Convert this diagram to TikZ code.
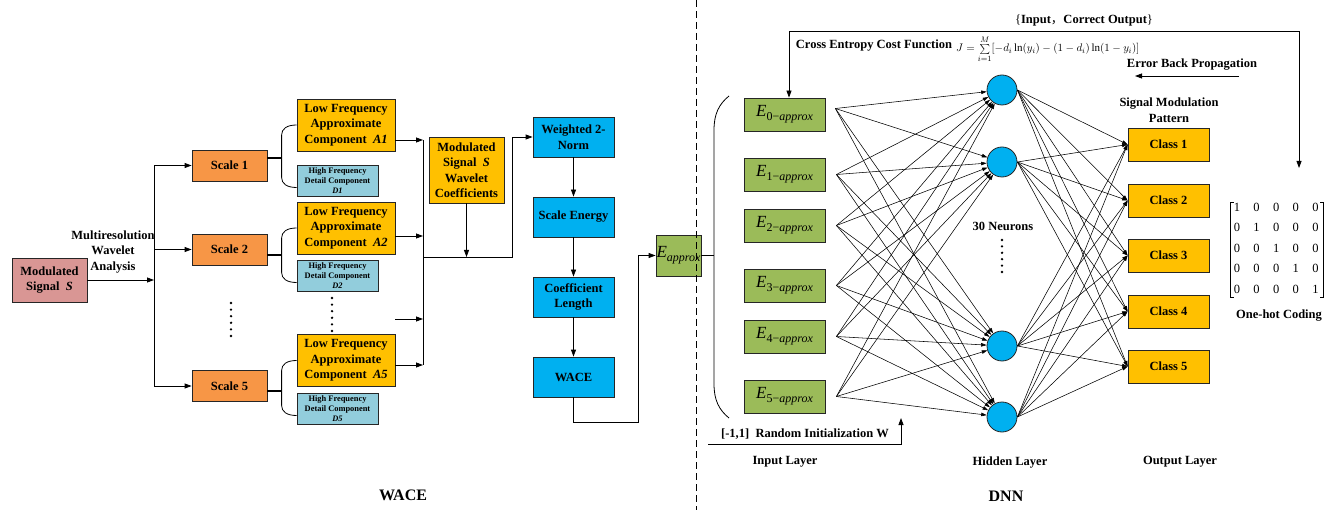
\documentclass[tikz,border=0pt]{standalone}
\usepackage{fontspec}
\setmainfont{Liberation Serif}
\newfontfamily\cjk{Noto Sans CJK SC}
\usetikzlibrary{arrows.meta,calc}
\definecolor{cPink}{HTML}{D99694}
\definecolor{cOrange}{HTML}{F79646}
\definecolor{cGold}{HTML}{FFC000}
\definecolor{cAqua}{HTML}{92CDDC}
\definecolor{cBlue}{HTML}{00B0F0}
\definecolor{cGreen}{HTML}{9BBB59}
\newcommand{\Eap}[1]{{\fontsize{17}{17}\selectfont\mdseries\itshape E}\raisebox{-4pt}{\fontsize{12}{12}\selectfont\mdseries\upshape #1\itshape approx}}
\tikzset{
  every node/.style={font=\fontsize{12.5}{15.5}\selectfont\bfseries},
  bx/.style={draw=black!85, line width=0.8pt, inner sep=0pt, align=center},
  scalebox/.style={bx, fill=cOrange, minimum width=75pt, minimum height=31pt},
  abox/.style={bx, fill=cGold, minimum width=98pt, minimum height=52pt},
  dbox/.style={bx, fill=cAqua, minimum width=81pt, minimum height=31pt, font=\fontsize{8.4}{10}\selectfont\bfseries},
  bluebox/.style={bx, fill=cBlue, minimum width=81pt, minimum height=40pt},
  gbox/.style={bx, fill=cGreen, minimum width=81pt, minimum height=33pt, font=\normalfont},
  classbox/.style={bx, fill=cGold, minimum width=81pt, minimum height=33pt},
  neuron/.style={circle, draw=black!85, line width=0.8pt, fill=cBlue, minimum size=30pt, inner sep=0pt},
  lbl/.style={inner sep=0pt, align=center},
  big/.style={inner sep=0pt, font=\fontsize{16}{16}\selectfont\bfseries},
  digit/.style={inner sep=0pt, font=\fontsize{12.5}{12.5}\selectfont},
  conn/.style={draw=black, line width=0.8pt},
  arr/.style={-{Triangle[length=7pt,width=5pt]}},
  nn/.style={draw=black, line width=0.55pt, -{Triangle[length=5.5pt,width=3.5pt]}},
}
\begin{document}
\begin{tikzpicture}[x=1pt,y=-1pt]
\useasboundingbox (0,0) rectangle (1324,510);

% ---------- WACE part ----------
\node[bx, fill=cPink, minimum width=75pt, minimum height=44pt] (mod) at (49.5,280) {Modulated\\Signal~~\textit{S}};
\node[lbl] (mwa) at (113,252) {Multiresolution\\Wavelet\\Analysis};
\coordinate (busA) at (154,0);
\node[scalebox] (s1) at (229.5,165.5) {Scale 1};
\node[scalebox] (s2) at (229.5,249.5) {Scale 2};
\node[scalebox] (s5) at (229.5,386) {Scale 5};
\draw[conn,arr] (mod.east) -- (busA |- mod.east);
\draw[conn] (busA |- s1.west) -- (busA |- s5.west);
\foreach \s in {s1,s2,s5} \draw[conn,arr] (busA |- \s.west) -- (\s.west);
\foreach \k in {0,...,5} \fill ({231},{303+6.6*\k}) circle (1.3pt);

\node[abox] (a1) at (346,125) {Low Frequency\\Approximate\\Component~~\textit{A1}};
\node[abox] (a2) at (346,228) {Low Frequency\\Approximate\\Component~~\textit{A2}};
\node[abox] (a5) at (346,360.5) {Low Frequency\\Approximate\\Component~~\textit{A5}};
\node[dbox] (d1) at (337.5,180.5) {High Frequency\\Detail Component\\\textit{D1}};
\node[dbox] (d2) at (337.5,275.5) {High Frequency\\Detail Component\\\textit{D2}};
\node[dbox] (d5) at (337.5,408.5) {High Frequency\\Detail Component\\\textit{D5}};
\foreach \k in {0,...,5} \fill ({332},{298+6.6*\k}) circle (1.3pt);

\foreach \a/\d in {a1/d1,a2/d2,a5/d5}
  \draw[conn] (\a.west) .. controls ($(\a.west)+(-10,0)$) and ($(\a.west)+(-15,4)$) .. ($(\a.west)+(-15,10)$)
     -- ($(\d.west)+(-15,-3)$) .. controls ($(\d.west)+(-15,3)$) and ($(\d.west)+(-10,7)$) .. ($(\d.west)+(0,7)$);
\draw[line width=2pt] ([yshift=7.5pt]s1.east) -- ++(15,0);
\draw[line width=2pt] ([yshift=-5.5pt]s2.east) -- ++(15,0);
\draw[line width=2pt] ([yshift=-5pt]s5.east) -- ++(15,0);

\coordinate (busB) at (423,0);
\coordinate (a1o) at ([yshift=-15pt]a1.east);
\coordinate (a2o) at ([yshift=-8pt]a2.east);
\coordinate (a5o) at ([yshift=-4.5pt]a5.east);
\coordinate (xo) at (395,319);
\foreach \p in {a1o,a2o,a5o,xo} \draw[conn,arr] (\p) -- (busB |- \p);
\draw[conn] (busB |- a1o) -- (busB |- a5o);
\coordinate (jB) at (423,257);

\node[bx, fill=cGold, minimum width=75pt, minimum height=66pt] (wc) at (466.5,170) {Modulated\\Signal~~\textit{S}\\Wavelet\\Coefficients};
\node[bluebox] (wn) at (573.5,137) {Weighted 2-\\Norm};
\node[bluebox] (se) at (573.5,217) {Scale Energy};
\node[bluebox] (cl) at (573.5,297) {Coefficient\\Length};
\node[bluebox] (wa) at (573.5,377) {WACE};
\draw[conn,arr] (jB) -| ($(wn.west)+(-20,0)$) -- (wn.west);
\draw[conn,arr] (wc.south) -- (wc.south |- jB);
\draw[conn,arr] (wn) -- (se);
\draw[conn,arr] (se) -- (cl);
\draw[conn,arr] (cl) -- (wa);

\node[bx, fill=cGreen, minimum width=45pt, minimum height=41pt, font=\normalfont] (eap) at (678.5,255.5) {\Eap{}};
\draw[conn,arr] (wa.south) -- ++(0,25) -| ($(eap.west)+(-17,0)$) -- (eap.west);

\node[big] (twace) at (403,495) {WACE};

% divider
\draw[line width=0.8pt, dash pattern=on 7pt off 4pt] (696,0) -- (696,510);

% ---------- DNN part ----------
\coordinate (brk) at (714,255.5);
\draw[line width=1.5pt] (eap.east) -- (brk);
\draw[conn] (729,96) .. controls (719,104) and (714,114) .. (714,130) -- (714,384) .. controls (714,400) and (719,410) .. (729,418);

\foreach \i/\y in {0/114.5,1/174.5,2/225.5,3/285.5,4/336.5,5/396.5}
  \node[gbox] (e\i) at (784.5,\y) {\Eap{\i−}};
\coordinate (o0) at ($(e0.east)+(10,-6)$);
\foreach \i in {1,...,5} \coordinate (o\i) at ($(e\i.east)+(11,0)$);

\node[neuron] (h1) at (1002,90) {};
\node[neuron] (h2) at (1002,162) {};
\node[neuron] (h3) at (1002,346) {};
\node[neuron] (h4) at (1002,417) {};
\node[lbl] (n30) at (1003,226) {30 Neurons};
\foreach \k in {0,...,5} \fill ({1002},{240+6.4*\k}) circle (1.3pt);

\foreach \c/\y in {1/144.5,2/200.5,3/255.5,4/311.5,5/366.5}
  \node[classbox] (c\c) at (1168.5,\y) {Class \c};

\foreach \i in {0,...,5} \foreach \h in {1,...,4} \draw[nn] (o\i) -- (h\h);
\foreach \h in {1,...,4} \foreach \c in {1,...,5} \draw[nn] (h\h.east) -- (c\c.west);

% feedback loop
\coordinate (fbend) at (1299,168);
\draw[conn,{Triangle[length=7pt,width=5pt]}-{Triangle[length=7pt,width=5pt]}] ([xshift=4.5pt]e0.north) |- (1299,31) -- (fbend);
\node[lbl] (io) at (1084,20) {{\mdseries\{}Input{\cjk\mdseries ，}Correct Output{\mdseries\}}};
\node[lbl] (cecf) at (874,46) {Cross Entropy Cost Function};
\node[inner sep=0pt, anchor=west, font=\fontsize{11}{11}\selectfont] (form) at (956,49) {$J=\sum\limits_{i=1}^{M}[-d_i\ln(y_i)-(1-d_i)\ln(1-y_i)]$};
\node[lbl] (ebp) at (1192,65) {Error Back Propagation};
\coordinate (ebp1) at (1239,76);
\coordinate (ebp2) at (1135,76);
\draw[conn,arr] (ebp1) -- (ebp2);
\node[lbl] (smp) at (1169,110) {Signal Modulation\\Pattern};

% one-hot matrix
\foreach \r in {0,...,4} \foreach \c in {0,...,4}
  \node[digit] (m\r\c) at ({1237+19.6*\c},{207+20.5*\r}) {\ifnum\r=\c\relax 1\else 0\fi};
\draw[line width=0.6pt] (1233.5,202) -| (1230,297) -- (1233.5,297);
\draw[line width=0.6pt] (1320,202) -| (1323,297) -- (1320,297);
\node[lbl] (ohc) at (1279,316) {One-hot Coding};

% random init
\coordinate (ri1) at (708,444);
\coordinate (ri2) at (901,418);
\draw[conn,arr] (ri1) -| (ri2);
\node[lbl] (rit) at (805,434) {[-1,1]\ \ Random Initialization W};

\node[lbl] (til) at (785,462) {Input Layer};
\node[lbl] (thl) at (1010,463) {Hidden Layer};
\node[lbl] (tol) at (1180,462) {Output Layer};
\node[big] (tdnn) at (1006,496) {DNN};
\end{tikzpicture}
\end{document}
